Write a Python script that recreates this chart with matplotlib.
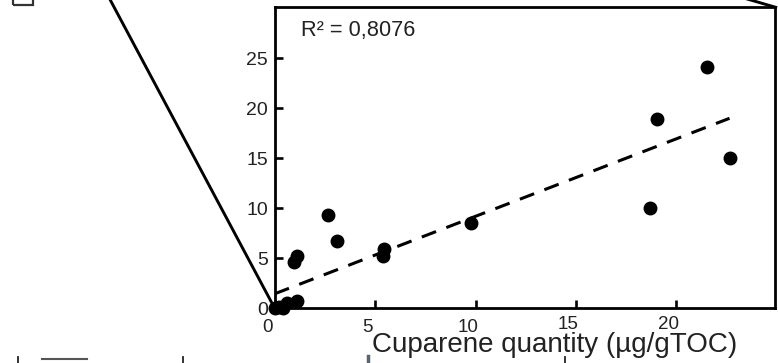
import matplotlib
matplotlib.use("Agg")
import matplotlib.pyplot as plt
from matplotlib.transforms import ScaledTranslation
from matplotlib.lines import Line2D
from matplotlib.patches import Rectangle

plt.rcParams['font.family'] = ['Liberation Sans', 'DejaVu Sans']

# ---- data ----
cuparene = [0.0, 0.2, 0.4, 0.63, 1.1, 0.98, 1.13, 2.63, 3.08, 5.38, 5.46, 9.76,
            18.67, 19.05, 21.52, 22.65]
yvalue = [0.0, 0.1, 0.0, 0.5, 0.76, 4.6, 5.26, 9.3, 6.76, 5.23, 5.9, 8.5,
          10.06, 18.93, 24.1, 15.0]
trend_x = [0.0, 22.65]
trend_y = [1.45, 19.0]
xticks = [0, 5, 10, 15, 20]
yticks = [0, 5, 10, 15, 20, 25]
r2_text = "R² = 0,8076"
xlabel = "Cuparene quantity (µg/gTOC)"

W, H = 778, 363
fig = plt.figure(figsize=(W / 100, H / 100), dpi=100)

ax_l, ax_r, ax_t, ax_b = 274.7, 774.7, 7.3, 308.3
ax = fig.add_axes([ax_l / W, 1 - ax_b / H, (ax_r - ax_l) / W, (ax_b - ax_t) / H])
ax.set_xlim(0, 24.9)
ax.set_ylim(0, 30.1)

ax.plot(trend_x, trend_y, linestyle='--', dashes=(5, 3.6), lw=2.2, color='black', zorder=3)
ax.plot(cuparene, yvalue, 'o', ms=9.0, color='black', mec='black', clip_on=False, zorder=6)

for s in ax.spines.values():
    s.set_linewidth(2.0)
    s.set_color('black')

ax.set_xticks(xticks)
ax.set_yticks(yticks)
ax.set_xticklabels([str(t) for t in xticks])
ax.set_yticklabels([str(t) for t in yticks])
ax.tick_params(axis='both', direction='in', length=5.5, width=1.9, color='black')
ax.tick_params(axis='y', pad=5, labelsize=14, labelcolor='#222222')
ax.tick_params(axis='x', pad=8.0, labelsize=13.5, labelcolor='#222222')

x_dy = [0, 0, 0, 3, 3]
for lab, dy in zip(ax.get_xticklabels(), x_dy):
    lab.set_transform(lab.get_transform() + ScaledTranslation(-7.5 / 100, dy / 100, fig.dpi_scale_trans))

ax.text(300.7 / W, 1 - 36 / H, r2_text, transform=fig.transFigure, fontsize=15.7,
        color='#222222', ha='left', va='baseline')

fig.text(555 / W, 1 - 351.7 / H, xlabel, fontsize=20, color='#222222',
         ha='center', va='baseline')

# zoom connector lines (decorative)
def px(x, y):
    return (x / W, 1 - y / H)

for (x0, y0), (x1, y1) in [((ax_l, ax_b), (106, -8)), ((ax_r + 1, ax_t), (730, -6))]:
    a, b = px(x0, y0)
    c, d = px(x1, y1)
    fig.add_artist(Line2D([a, c], [b, d], transform=fig.transFigure, color='black', lw=2.1))

# small box fragment at top-left
fig.add_artist(Rectangle((13 / W, 1 - 5 / H), 20 / W, 12 / H, transform=fig.transFigure,
                         fill=False, edgecolor='#333333', lw=1.6, clip_on=False))

# cut-off fragments of figure below
for xx in [18, 183, 565]:
    a, b = px(xx, 357)
    c, d = px(xx, 364)
    fig.add_artist(Line2D([a, c], [b, d], transform=fig.transFigure, color='#222222', lw=1.3))
a, b = px(42, 359)
c, d = px(87, 359)
fig.add_artist(Line2D([a, c], [b, d], transform=fig.transFigure, color='#555555', lw=1.5))
a, b = px(368, 356)
c, d = px(368, 364)
fig.add_artist(Line2D([a, c], [b, d], transform=fig.transFigure, color='#556677', lw=2.5))

fig.savefig("out.png", dpi=100)
